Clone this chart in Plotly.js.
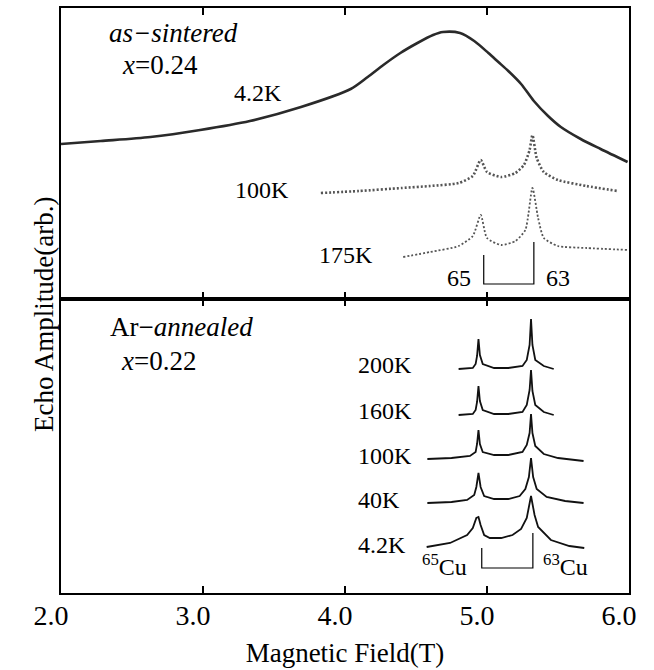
<!DOCTYPE html>
<html>
<head>
<meta charset="utf-8">
<script src="https://cdn.plot.ly/plotly-3.0.1.min.js"></script>
<style>html,body{margin:0;padding:0;background:#fff;}#chart{width:654px;height:670px;}</style>
</head>
<body>
<div id="chart"></div>
<script>
// ---------- DATA (field in tesla, amplitude in arbitrary units) ----------
// as-sintered, x=0.24 (upper panel)
const fieldS4K = [2.00, 2.28, 2.63, 2.98, 3.33, 3.69, 4.04, 4.16, 4.27, 4.39, 4.51, 4.62, 4.69, 4.81, 4.91, 5.01, 5.08, 5.15, 5.24, 5.33, 5.43, 5.52, 5.66, 5.80, 5.99];
const ampS4K   = [155, 158, 162, 169, 178, 192, 210, 222, 234, 246, 256, 264, 267, 266, 258, 246, 237, 228, 215, 198, 183, 172, 160, 150, 137];

const fieldS100K = [3.83, 4.10, 4.40, 4.60, 4.80, 4.90, 4.956, 5.00, 5.10, 5.20, 5.26, 5.30, 5.32, 5.35, 5.40, 5.50, 5.70, 5.92];
const ampS100K   = [106, 108, 111, 113, 116, 123, 139, 127, 122, 126, 134, 149, 164, 141, 127, 119, 113, 108];

const fieldS175K = [4.41, 4.60, 4.80, 4.90, 4.956, 5.00, 5.10, 5.20, 5.27, 5.32, 5.36, 5.40, 5.50, 5.70, 6.00];
const ampS175K   = [42, 47, 53, 63, 84, 61, 54, 58, 69, 111, 81, 61, 53, 51, 49];

// Ar-annealed, x=0.22 (lower panel)
const fieldA200K = [4.80, 4.90, 4.92, 4.93, 4.94, 4.95, 4.97, 5.05, 5.15, 5.25, 5.28, 5.30, 5.31, 5.32, 5.34, 5.40, 5.47];
const ampA200K   = [224, 225, 229, 237, 254, 238, 229, 225, 225, 227, 233, 248, 274, 248, 233, 227, 224];

const fieldA160K = [4.80, 4.90, 4.92, 4.93, 4.94, 4.95, 4.97, 5.05, 5.15, 5.25, 5.28, 5.30, 5.31, 5.32, 5.34, 5.40, 5.47];
const ampA160K   = [178, 179, 183, 191, 207, 192, 183, 179, 179, 181, 188, 203, 223, 202, 188, 181, 178];

const fieldA100K = [4.58, 4.75, 4.88, 4.92, 4.93, 4.94, 4.95, 4.97, 5.05, 5.15, 5.25, 5.28, 5.30, 5.31, 5.32, 5.34, 5.40, 5.50, 5.68];
const ampA100K   = [134, 135, 137, 141, 149, 163, 149, 141, 138, 138, 141, 148, 160, 179, 160, 147, 139, 135, 132];

const fieldA40K = [4.58, 4.75, 4.86, 4.91, 4.925, 4.94, 4.955, 4.98, 5.05, 5.15, 5.23, 5.27, 5.295, 5.31, 5.325, 5.35, 5.42, 5.55, 5.68];
const ampA40K   = [90, 91, 93, 98, 106, 120, 106, 97, 94, 94, 97, 104, 116, 135, 116, 104, 96, 92, 90];

const fieldA4K = [4.575, 4.74, 4.86, 4.90, 4.925, 4.94, 4.955, 4.98, 5.02, 5.10, 5.18, 5.24, 5.28, 5.31, 5.335, 5.36, 5.45, 5.58, 5.685];
const ampA4K   = [46, 50, 58, 65, 75, 76, 68, 58, 55, 55, 58, 64, 75, 97, 78, 66, 53, 47, 45];

const tickVals = [2, 3, 4, 5, 6];
const tickText = ['2.0', '3.0', '4.0', '5.0', '6.0'];

// ---------- PLOT ----------
const FONT = '"Liberation Serif", "Times New Roman", Times, serif';
const solid = c => ({color: c, width: 1.8});
const traces = [
  {x: fieldS4K, y: ampS4K, xaxis: 'x2', yaxis: 'y2', mode: 'lines', line: {color: '#2a2a2a', width: 2.6, shape: 'spline', smoothing: 0.8}, hoverinfo: 'none'},
  {x: fieldS100K, y: ampS100K, xaxis: 'x2', yaxis: 'y2', mode: 'lines', line: {color: '#555', width: 2.6, shape: 'spline', smoothing: 0.6, dash: '2px,2px'}, hoverinfo: 'none'},
  {x: fieldS175K, y: ampS175K, xaxis: 'x2', yaxis: 'y2', mode: 'lines', line: {color: '#555', width: 1.8, shape: 'spline', smoothing: 0.6, dash: '2px,2px'}, hoverinfo: 'none'},
  {x: fieldA200K, y: ampA200K, xaxis: 'x', yaxis: 'y', mode: 'lines', line: solid('#111'), hoverinfo: 'none'},
  {x: fieldA160K, y: ampA160K, xaxis: 'x', yaxis: 'y', mode: 'lines', line: solid('#111'), hoverinfo: 'none'},
  {x: fieldA100K, y: ampA100K, xaxis: 'x', yaxis: 'y', mode: 'lines', line: solid('#111'), hoverinfo: 'none'},
  {x: fieldA40K, y: ampA40K, xaxis: 'x', yaxis: 'y', mode: 'lines', line: solid('#111'), hoverinfo: 'none'},
  {x: fieldA4K, y: ampA4K, xaxis: 'x', yaxis: 'y', mode: 'lines', line: solid('#111'), hoverinfo: 'none'}
];

const split = (593 - 299) / 585;
const axisCommon = {
  showline: true, linecolor: '#000', linewidth: 2, mirror: 'ticks',
  ticks: 'inside', ticklen: 7, tickwidth: 1.5, tickcolor: '#000',
  zeroline: false, showgrid: false, range: [2, 6], tickvals: tickVals, ticktext: tickText
};
const yCommon = {showline: true, linecolor: '#000', linewidth: 2, mirror: true, ticks: '', showticklabels: false, zeroline: false, showgrid: false, fixedrange: true};

const ann = (x, y, text, ref, size, extra) => Object.assign({x: x, y: y, xref: ref[0], yref: ref[1], text: text, showarrow: false, font: {family: FONT, size: size, color: '#000'}}, extra || {});
const U = ['x2', 'y2'], L = ['x', 'y'];
const annotations = [
  ann(2.79, 249, '<i>as−sintered</i>', U, 27, {yanchor: 'bottom'}),
  ann(2.70, 251, '<i>x</i>=0.24', U, 27, {yanchor: 'top'}),
  ann(3.206, 206, '4.2K', U, 24, {xanchor: 'left'}),
  ann(3.213, 109, '100K', U, 24, {xanchor: 'left'}),
  ann(3.806, 44, '175K', U, 24, {xanchor: 'left'}),
  ann(4.80, 21, '65', U, 24),
  ann(5.50, 21, '63', U, 24),
  ann(2.85, 249, 'Ar−<i>annealed</i>', L, 27, {yanchor: 'bottom'}),
  ann(2.69, 249, '<i>x</i>=0.22', L, 27, {yanchor: 'top'}),
  ann(4.074, 228, '200K', L, 24, {xanchor: 'left'}),
  ann(4.074, 182, '160K', L, 24, {xanchor: 'left'}),
  ann(4.074, 137, '100K', L, 24, {xanchor: 'left'}),
  ann(4.074, 93, '40K', L, 24, {xanchor: 'left'}),
  ann(4.074, 48, '4.2K', L, 24, {xanchor: 'left'}),
  ann(4.70, 28, '<sup>65</sup>Cu', L, 24),
  ann(5.555, 28, '<sup>63</sup>Cu', L, 24),
  {x: -0.06, y: 0.477, xref: 'paper', yref: 'paper', text: 'Echo Amplitude(arb.)', textangle: -90, showarrow: false, font: {family: FONT, size: 27, color: '#000'}}
];

const bl = {color: '#000', width: 1.2};
const shapes = [
  {type: 'path', xref: 'x2', yref: 'y2', path: 'M 4.977 44 L 4.977 15 L 5.33 15 L 5.33 57', line: bl},
  {type: 'path', xref: 'x', yref: 'y', path: 'M 4.963 45 L 4.963 25 L 5.323 25 L 5.323 60', line: bl}
];

const layout = {
  width: 654, height: 670,
  margin: {l: 61, r: 25, t: 8, b: 77},
  paper_bgcolor: '#fff', plot_bgcolor: '#fff',
  showlegend: false,
  font: {family: FONT, size: 28, color: '#000'},
  xaxis: Object.assign({}, axisCommon, {anchor: 'y', ticklabelshift: -10, ticklabelstandoff: -4, tickfont: {family: FONT, size: 28},
    title: {text: 'Magnetic Field(T)', font: {family: FONT, size: 27}, standoff: 14}}),
  xaxis2: Object.assign({}, axisCommon, {anchor: 'y2', matches: 'x', showticklabels: false}),
  yaxis: Object.assign({}, yCommon, {domain: [0, split], range: [0, 294]}),
  yaxis2: Object.assign({}, yCommon, {domain: [split, 1], range: [0, 291]}),
  annotations: annotations,
  shapes: shapes
};

Plotly.newPlot('chart', traces, layout, {staticPlot: true, displayModeBar: false});
</script>
</body>
</html>
